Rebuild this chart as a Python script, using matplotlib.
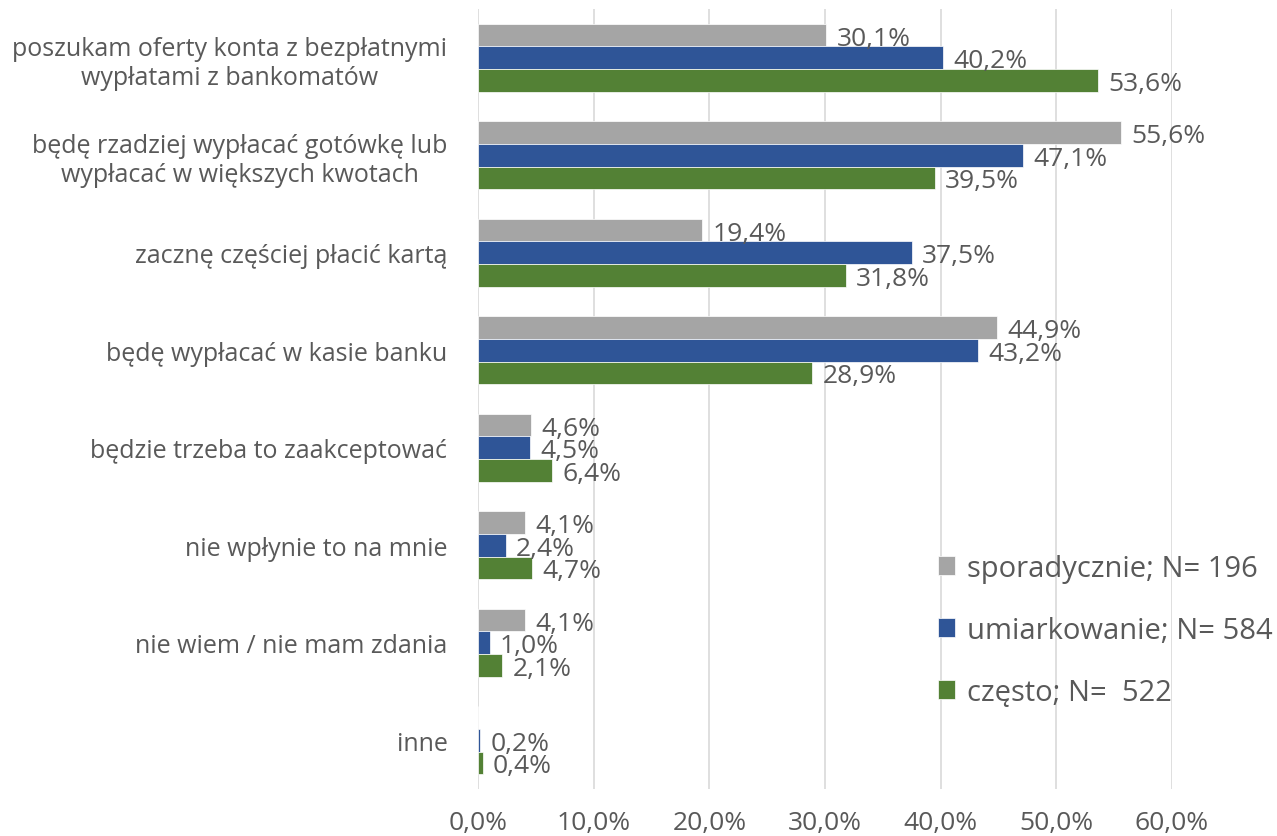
import matplotlib.pyplot as plt
import numpy as np

plt.rcParams['font.family'] = ['Open Sans', 'DejaVu Sans']

categories = [
    'poszukam oferty konta z bezpłatnymi\nwypłatami z bankomatów',
    'będę rzadziej wypłacać gotówkę lub\nwypłacać w większych kwotach',
    'zacznę częściej płacić kartą',
    'będę wypłacać w kasie banku',
    'będzie trzeba to zaakceptować',
    'nie wpłynie to na mnie',
    'nie wiem / nie mam zdania',
    'inne',
]
sporadycznie = [30.1, 55.6, 19.4, 44.9, 4.6, 4.1, 4.1, 0.0]
umiarkowanie = [40.2, 47.1, 37.5, 43.2, 4.5, 2.4, 1.0, 0.2]
czesto = [53.6, 39.5, 31.8, 28.9, 6.4, 4.7, 2.1, 0.4]
series_names = ['sporadycznie; N= 196', 'umiarkowanie; N= 584', 'często; N=  522']
colors = ['#A5A5A5', '#2F5597', '#538135']
txt = '#595959'

fig = plt.figure(figsize=(12.77, 8.37), dpi=100)
ax = fig.add_axes([478 / 1277, 47 / 837, 694 / 1277, 780 / 837])

y = np.arange(len(categories))
h = 0.232
for i, (vals, name, c) in enumerate(zip([sporadycznie, umiarkowanie, czesto], series_names, colors)):
    pos = y + (i - 1) * h
    ax.barh(pos, vals, height=h, color=c, label=name, edgecolor='white', linewidth=0.5)
    for p, v in zip(pos, vals):
        if v == 0:
            continue
        ax.text(v + 0.9, p + 0.03, f'{v:.1f}%'.replace('.', ','), va='center', ha='left',
                fontsize=19, color=txt)

ax.set_ylim(len(categories) - 0.5, -0.5)
ax.set_xlim(0, 60)
ax.set_xticks(np.arange(0, 61, 10))
ax.set_xticklabels([f'{t:.1f}%'.replace('.', ',') for t in np.arange(0, 61, 10)])
ax.set_yticks(y)
ax.set_yticklabels(categories, multialignment='center')
ax.tick_params(axis='both', length=0, labelsize=19, colors=txt)
ax.tick_params(axis='y', labelsize=18, pad=22)
ax.tick_params(axis='x', pad=15)
ax.xaxis.grid(True, color='#D9D9D9', linewidth=1.2)
ax.set_axisbelow(True)
for s in ax.spines.values():
    s.set_visible(False)

leg = ax.legend(loc='lower right', bbox_to_anchor=(1.183, 0.072), frameon=False, fontsize=21,
                handlelength=0.6, handleheight=0.6, labelspacing=1.13, handletextpad=0.4)
for t in leg.get_texts():
    t.set_color(txt)

fig.savefig('out.png', dpi=100)
